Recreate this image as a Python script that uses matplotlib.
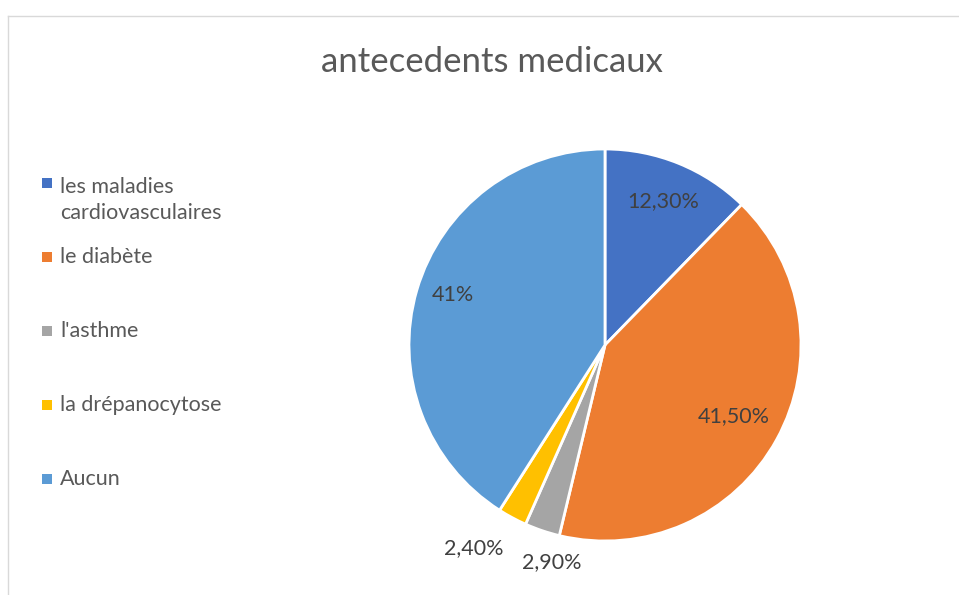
import numpy as np
import matplotlib.pyplot as plt

# données du graphique
categories = ["les maladies\ncardiovasculaires", "le diabète", "l'asthme", "la drépanocytose", "Aucun"]
valeurs = [12.3, 41.5, 2.9, 2.4, 41.0]
etiquettes = ["12,30%", "41,50%", "2,90%", "2,40%", "41%"]
couleurs = ["#4472C4", "#ED7D31", "#A5A5A5", "#FFC000", "#5B9BD5"]

# position des étiquettes (rayon relatif, décalage angulaire en degrés)
dist_etiq = [0.79, 0.75, 1.14, 1.235, 0.82]
decal_etiq = [0, 0, 5, -4.6, -2]

plt.rcParams['font.family'] = ['Lato', 'DejaVu Sans']

W, H = 959, 595
fig = plt.figure(figsize=(W / 100, H / 100), dpi=100)
ax = fig.add_axes([0, 0, 1, 1])

cx, cy, r = 605, H - 345, 196
wedges, _ = ax.pie(valeurs, colors=couleurs, startangle=90, counterclock=False,
                   center=(cx, cy), radius=r, frame=True,
                   wedgeprops=dict(edgecolor='white', linewidth=2))
ax.set_xlim(0, W)
ax.set_ylim(0, H)
ax.set_aspect('equal')
ax.axis('off')

# étiquettes de données
for w, lab, d, da in zip(wedges, etiquettes, dist_etiq, decal_etiq):
    ang = np.deg2rad((w.theta1 + w.theta2) / 2 + da)
    ax.text(cx + d * r * np.cos(ang), cy + d * r * np.sin(ang), lab,
            ha='center', va='center', fontsize=15.5, color='#404040')

# cadre du graphique
ax.plot([7.5, W], [H - 15.5, H - 15.5], color='#D9D9D9', lw=1, clip_on=False)
ax.plot([7.5, 7.5], [0, H - 15.5], color='#D9D9D9', lw=1, clip_on=False)

# titre
ax.text(492, H - 62, "antecedents medicaux", ha='center', va='center',
        fontsize=25, color='#595959')

# légende (marqueur aligné sur la première ligne)
fs_leg, interligne = 15.5, 1.4
haut_ligne = fs_leg * interligne * 100 / 72
y0, pas = H - 183, 74
for i, (cat, col) in enumerate(zip(categories, couleurs)):
    y = y0 - i * pas
    ax.scatter([47], [y], marker='s', s=45, color=col, linewidths=0)
    ax.text(60, y - 6 - cat.count('\n') * haut_ligne, cat, ha='left', va='baseline',
            fontsize=fs_leg, color='#595959', linespacing=interligne)

fig.savefig("out.png", dpi=100)
